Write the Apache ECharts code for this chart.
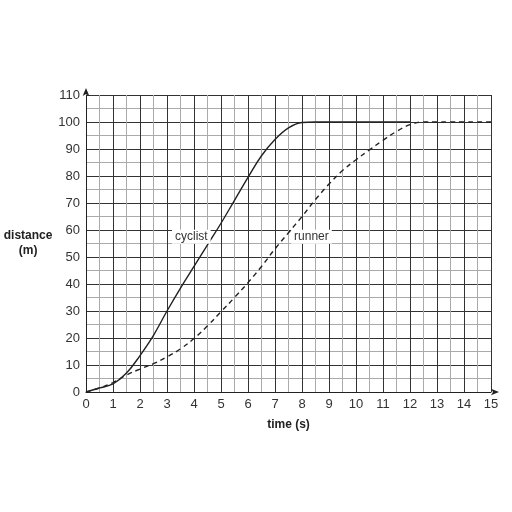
<!DOCTYPE html>
<html><head><meta charset="utf-8">
<script src="https://cdn.jsdelivr.net/npm/echarts@6/dist/echarts.min.js"></script>
<style>html,body{margin:0;padding:0;background:#fff}#c{width:512px;height:512px}</style>
</head><body><div id="c"></div>
<script>
var times = [0,0.5,1,1.5,2,2.5,3,3.5,4,4.5,5,5.5,6,6.5,7,7.5,8,8.5,9,9.5,10,10.5,11,11.5,12,12.5,13,13.5,14,14.5,15];
var cyclist = [0,1.5,3,7,13.5,21,30,38.5,46.5,54.5,62.5,71,79.5,87.5,93.5,97.8,99.8,100,100,100,100,100,100,100,100];
var runner = [0,1.5,3.5,6.3,8.5,10.5,13,16,19.8,24.5,29.7,35,40.5,46.5,53,59,65,71.3,77,82,86,89.7,93.2,96.5,99,100,100,100,100,100,100];
var xTicks = [0,15,1];
var yTicks = [0,110,10];
function pairs(v){return v.map(function(d,i){return [times[i],d];});}
var chart = echarts.init(document.getElementById('c'));
var font = 'Liberation Sans, Arial, sans-serif';
chart.setOption({
  animation:false,
  grid:{left:86,top:95,width:405,height:297},
  xAxis:{type:'value',min:xTicks[0],max:xTicks[1],interval:xTicks[2],
    name:'time (s)',nameLocation:'middle',nameGap:27,
    nameTextStyle:{fontFamily:font,fontWeight:'bold',fontSize:12,color:'#222'},
    axisLine:{show:true,lineStyle:{color:'#222',width:1},symbol:['none','arrow'],symbolSize:[5,8],symbolOffset:[0,8]},
    axisTick:{show:false},
    axisLabel:{fontFamily:font,fontSize:13,color:'#333',margin:6},
    splitLine:{show:true,lineStyle:{color:'#333',width:1}},
    minorTick:{show:false,splitNumber:2},
    minorSplitLine:{show:true,lineStyle:{color:'#aaa',width:1}}
  },
  yAxis:{type:'value',min:yTicks[0],max:yTicks[1],interval:yTicks[2],
    name:'distance\n(m)',nameLocation:'middle',nameGap:24,nameRotate:0,
    nameTextStyle:{fontFamily:font,fontWeight:'bold',fontSize:12,color:'#222',align:'center',lineHeight:15},
    axisLine:{show:true,lineStyle:{color:'#222',width:1},symbol:['none','arrow'],symbolSize:[5,8],symbolOffset:[0,7]},
    axisTick:{show:false},
    axisLabel:{fontFamily:font,fontSize:13,color:'#333',margin:6},
    splitLine:{show:true,lineStyle:{color:'#333',width:1}},
    minorTick:{show:false,splitNumber:2},
    minorSplitLine:{show:true,lineStyle:{color:'#aaa',width:1}}
  },
  series:[
    {type:'line',name:'cyclist',data:pairs(cyclist),smooth:0.4,showSymbol:false,
     lineStyle:{color:'#222',width:1.4},
     markPoint:{symbol:'rect',symbolSize:1,itemStyle:{color:'rgba(0,0,0,0)'},
       data:[{coord:[3.9,57.5],value:'cyclist'}],
       label:{show:true,formatter:'cyclist',position:'inside',fontFamily:font,fontSize:12,color:'#333',backgroundColor:'#fff',padding:[1,3]}}},
    {type:'line',name:'runner',data:pairs(runner),smooth:0.4,showSymbol:false,
     lineStyle:{color:'#222',width:1.4,type:[5,4]},
     markPoint:{symbol:'rect',symbolSize:1,itemStyle:{color:'rgba(0,0,0,0)'},
       data:[{coord:[8.35,57.5],value:'runner'}],
       label:{show:true,formatter:'runner',position:'inside',fontFamily:font,fontSize:12,color:'#333',backgroundColor:'#fff',padding:[1,3]}}}
  ]
});
</script></body></html>
